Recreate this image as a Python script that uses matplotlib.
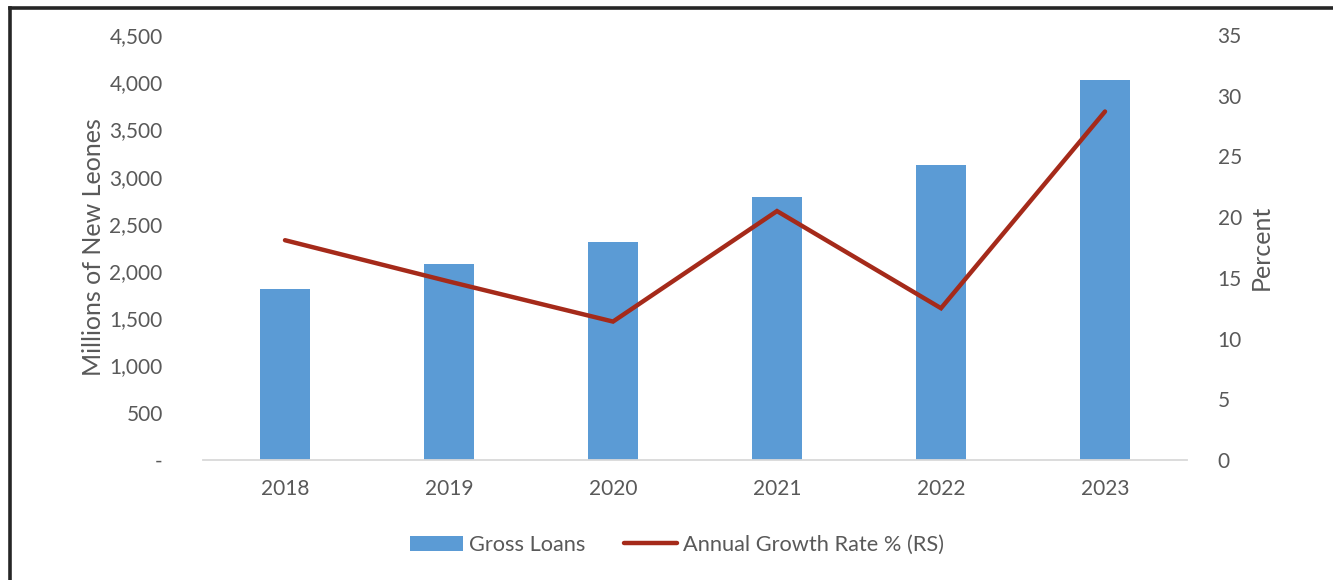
import matplotlib
matplotlib.use("Agg")
import matplotlib.pyplot as plt
from matplotlib.lines import Line2D
from matplotlib.ticker import FuncFormatter

plt.rcParams['font.family'] = ['Lato', 'DejaVu Sans']

years = ["2018", "2019", "2020", "2021", "2022", "2023"]
gross_loans = [1811, 2075, 2305, 2782, 3124, 4024]
growth_rate = [18.1, 14.7, 11.4, 20.5, 12.5, 28.7]
left_ticks = [0, 500, 1000, 1500, 2000, 2500, 3000, 3500, 4000, 4500]
right_ticks = [0, 5, 10, 15, 20, 25, 30, 35]

BAR_COLOR = "#5B9BD5"
LINE_COLOR = "#A52A1A"
TEXT_COLOR = "#595959"

fig = plt.figure(figsize=(13.33, 5.8), dpi=100)
W, H = 1333, 580
ax = fig.add_axes([203 / W, 1 - 460 / H, (1187 - 203) / W, (460 - 35) / H])
ax2 = ax.twinx()

x = list(range(len(years)))
ax.bar(x, gross_loans, width=0.31, color=BAR_COLOR, zorder=2, label="Gross Loans")
ax2.plot(x, growth_rate, color=LINE_COLOR, lw=3.2, solid_capstyle="round",
         solid_joinstyle="miter", label="Annual Growth Rate % (RS)")

ax.set_xlim(-0.5, len(years) - 0.5)
ax.set_ylim(0, 4500)
ax2.set_ylim(0, 35)
ax.set_yticks(left_ticks)
ax2.set_yticks(right_ticks)
ax.yaxis.set_major_formatter(FuncFormatter(lambda v, p: "-" if v == 0 else f"{v:,.0f}"))
ax.set_xticks(x)
ax.set_xticklabels(years)

for a in (ax, ax2):
    for s in a.spines.values():
        s.set_visible(False)
    a.tick_params(length=0, labelsize=15, labelcolor=TEXT_COLOR)
ax.spines['bottom'].set_visible(True)
ax.spines['bottom'].set_color("#D9D9D9")
ax.spines['bottom'].set_linewidth(1.3)
ax.tick_params(axis='y', pad=29)
ax.tick_params(axis='x', pad=14)
ax2.tick_params(axis='y', pad=22)

ax.set_ylabel("Millions of New Leones", fontsize=18, color=TEXT_COLOR, labelpad=3.5)
ax2.set_ylabel("Percent", fontsize=18, color=TEXT_COLOR, labelpad=6)

h1, l1 = ax.get_legend_handles_labels()
h2, l2 = ax2.get_legend_handles_labels()
fig.legend(h1 + h2, l1 + l2, loc="center", bbox_to_anchor=(677 / W, 1 - 545 / H),
           ncol=2, frameon=False, fontsize=15.7, labelcolor=TEXT_COLOR,
           handlelength=2.4, handletextpad=0.28, columnspacing=1.8)

# Frame edges along left and top
fig.add_artist(Line2D([9.5 / W, 9.5 / W], [0, 1 - 7.5 / H], color="#262626", lw=2.6,
                      transform=fig.transFigure, solid_capstyle="projecting"))
fig.add_artist(Line2D([9.5 / W, 1], [1 - 7.5 / H, 1 - 7.5 / H], color="#262626", lw=2.6,
                      transform=fig.transFigure, solid_capstyle="projecting"))

fig.savefig("out.png", dpi=100, facecolor="white")
